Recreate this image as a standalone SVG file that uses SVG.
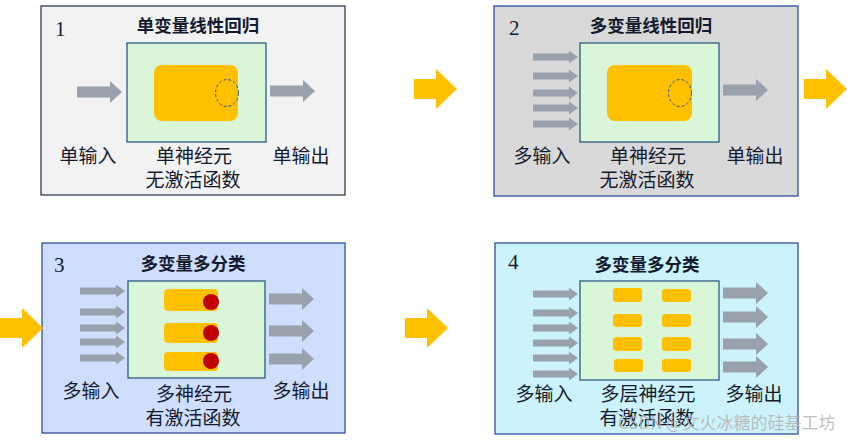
<svg xmlns="http://www.w3.org/2000/svg" width="847" height="440" viewBox="0 0 847 440">
<style>
.panel{stroke:#2f4f9f;stroke-width:1.3}
.inner{fill:#daf6d8;stroke:#1f4e79;stroke-width:1.2}
.neuron{fill:#ffc000}
.dash{fill:none;stroke:#2f5597;stroke-width:1;stroke-dasharray:3 2}
.gray{fill:#98a1ac}
.orange{fill:#ffc000}
.title{font-family:"Noto Sans CJK SC","Noto Sans",sans-serif;font-size:17.5px;font-weight:bold;fill:#141a2e;text-anchor:middle}
.lbl{font-family:"Noto Sans CJK SC","Noto Sans",sans-serif;font-size:19px;fill:#141a2e;text-anchor:middle}
.num{font-family:"Liberation Serif",serif;font-size:21px;fill:#141a2e}
.wm{font-family:"Noto Sans CJK SC","Noto Sans",sans-serif;font-size:17px;fill:#b4b4b4;fill-opacity:0.85}
</style>
<defs>
<path id="as" d="M0,-3.5 H36 V-6.5 L45,0 L36,6.5 V3.5 H0 Z"/>
<path id="ab" d="M0,-5.5 H33 V-11 L45,0 L33,11 V5.5 H0 Z"/>
<path id="ao" d="M0,-10 H22 V-20 L43,0 L22,20 V10 H0 Z"/>
</defs>

<g id="panel1">
<rect x="41" y="6" width="304" height="189" fill="#f2f2f2" stroke="#1f2a44" stroke-width="1.2"/>
<text class="num" x="55" y="36">1</text>
<text class="title" x="198" y="32">单变量线性回归</text>
<rect class="inner" x="127" y="43" width="139" height="99"/>
<rect class="neuron" x="154" y="65" width="84" height="56" rx="8"/>
<ellipse class="dash" cx="227" cy="93" rx="11.5" ry="13.5"/>
<use href="#ab" class="gray" x="77" y="92"/>
<use href="#ab" class="gray" x="270" y="91"/>
<text class="lbl" x="88" y="163">单输入</text>
<text class="lbl" x="194" y="163">单神经元</text>
<text class="lbl" x="193" y="187">无激活函数</text>
<text class="lbl" x="301" y="163">单输出</text>
</g>

<g id="panel2">
<rect class="panel" x="494" y="6" width="304" height="190" fill="#d9d9d9"/>
<text class="num" x="509" y="35">2</text>
<text class="title" x="651" y="32">多变量线性回归</text>
<rect class="inner" x="580" y="43" width="139" height="99"/>
<rect class="neuron" x="607" y="65" width="85" height="56" rx="8"/>
<ellipse class="dash" cx="680" cy="93" rx="11.5" ry="13.5"/>
<g class="gray">
<use href="#as" x="533" y="57"/>
<use href="#as" x="533" y="76"/>
<use href="#as" x="533" y="93"/>
<use href="#as" x="533" y="108"/>
<use href="#as" x="533" y="124"/>
</g>
<use href="#ab" class="gray" x="723" y="90"/>
<text class="lbl" x="542" y="163">多输入</text>
<text class="lbl" x="648" y="163">单神经元</text>
<text class="lbl" x="647" y="187">无激活函数</text>
<text class="lbl" x="755" y="163">单输出</text>
</g>

<g id="panel3">
<rect class="panel" x="42" y="243" width="303" height="190" fill="#d0defd"/>
<text class="num" x="54" y="272">3</text>
<text class="title" x="193" y="270">多变量多分类</text>
<rect class="inner" x="128" y="281" width="137" height="97"/>
<rect class="neuron" x="164" y="289" width="54" height="22" rx="4"/>
<rect class="neuron" x="164" y="323" width="54" height="20" rx="4"/>
<rect class="neuron" x="164" y="352" width="54" height="19" rx="4"/>
<circle cx="211" cy="302" r="8" fill="#c00000"/>
<circle cx="211" cy="333" r="8" fill="#c00000"/>
<circle cx="211" cy="361" r="8" fill="#c00000"/>
<g class="gray">
<use href="#as" x="80" y="291"/>
<use href="#as" x="80" y="312"/>
<use href="#as" x="80" y="328"/>
<use href="#as" x="80" y="342"/>
<use href="#as" x="80" y="358"/>
<use href="#ab" x="269" y="299"/>
<use href="#ab" x="269" y="331"/>
<use href="#ab" x="269" y="359"/>
</g>
<text class="lbl" x="91" y="398">多输入</text>
<text class="lbl" x="194" y="401">多神经元</text>
<text class="lbl" x="193" y="425">有激活函数</text>
<text class="lbl" x="301" y="398">多输出</text>
</g>

<g id="panel4">
<rect class="panel" x="495" y="243" width="303" height="191" fill="#ccf2fc"/>
<text class="num" x="508" y="269">4</text>
<text class="title" x="647" y="271">多变量多分类</text>
<rect class="inner" x="580" y="281" width="139" height="99"/>
<g class="neuron">
<rect x="613" y="288" width="29" height="14" rx="3"/>
<rect x="662" y="289" width="29" height="13" rx="3"/>
<rect x="613" y="314" width="29" height="13" rx="3"/>
<rect x="662" y="314" width="29" height="13" rx="3"/>
<rect x="613" y="337" width="29" height="14" rx="3"/>
<rect x="662" y="337" width="29" height="14" rx="3"/>
<rect x="614" y="359" width="29" height="13" rx="3"/>
<rect x="662" y="359" width="29" height="13" rx="3"/>
</g>
<g class="gray">
<use href="#as" x="533" y="294"/>
<use href="#as" x="533" y="313"/>
<use href="#as" x="533" y="328"/>
<use href="#as" x="533" y="343"/>
<use href="#as" x="533" y="358"/>
<use href="#as" x="533" y="374"/>
<use href="#ab" x="723" y="293"/>
<use href="#ab" x="723" y="317"/>
<use href="#ab" x="723" y="344"/>
<use href="#ab" x="723" y="367"/>
</g>
<text class="lbl" x="544" y="401">多输入</text>
<text class="lbl" x="648" y="401">多层神经元</text>
<text class="lbl" x="647" y="425">有激活函数</text>
<text class="lbl" x="754" y="401">多输出</text>
</g>

<g id="connectors" class="orange">
<use href="#ao" x="414" y="89"/>
<use href="#ao" x="804" y="89"/>
<use href="#ao" x="0" y="328"/>
<use href="#ao" x="405" y="328"/>
</g>

<text class="wm" x="618" y="429">CSDN @文火冰糖的硅基工坊</text>
</svg>
